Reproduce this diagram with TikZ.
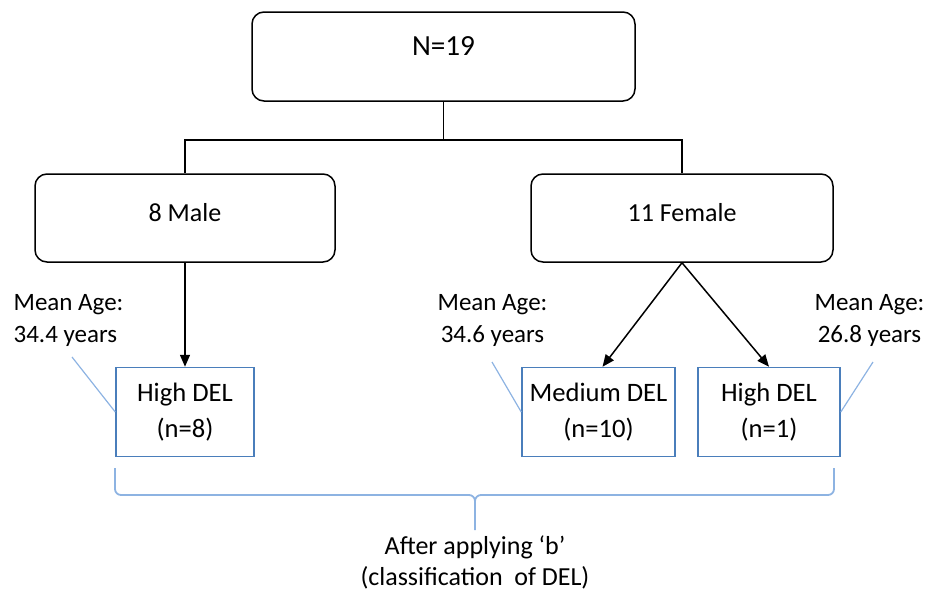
\documentclass[tikz,border=0pt]{standalone}
\usepackage{fontspec}
\setmainfont{Carlito}
\usetikzlibrary{positioning,arrows.meta}
\definecolor{boxblue}{HTML}{4A7EBB}
\definecolor{noteblue}{HTML}{8DB3E2}

\tikzset{
  groupbox/.style={draw, rounded corners=6pt, line width=0.75pt,
    minimum width=150pt, minimum height=44pt, text depth=6pt},
  delbox/.style={draw=boxblue, line width=0.75pt, minimum height=44.5pt,
    align=center, inner sep=2pt, font=\fontsize{13.3}{18}\selectfont},
  agenote/.style={align=center, font=\fontsize{12.5}{16}\selectfont},
  noteline/.style={draw=noteblue, line width=0.6pt},
}

\begin{document}
\begin{tikzpicture}[on grid, font=\fontsize{13}{15.5}\selectfont, line width=0.75pt]
            \useasboundingbox (0,0) rectangle (464pt,-297.5pt);

            \node[groupbox, minimum width=191.5pt, minimum height=44.5pt, text depth=10pt,
              font=\fontsize{14.6}{17}\selectfont] (N) at (221.75pt,-28.25pt) {N=19};
            \node[groupbox, below left=80.75pt and 129.25pt of N] (male) {8 Male};
            \node[groupbox, minimum width=151pt, below right=80.75pt and 119.25pt of N] (female) {11 Female};

            \node[delbox, minimum width=69pt, below=97pt of male] (highM) {High DEL\\(n=8)};
            \node[delbox, minimum width=76.5pt, below left=97pt and 41.75pt of female] (medF) {Medium DEL\\(n=10)};
            \node[delbox, minimum width=71pt, below right=97pt and 43.5pt of female] (highF) {High DEL\\(n=1)};

            \node[agenote, align=left, above left=46pt and 58.25pt of highM] (ageM) {Mean Age:\\34.4 years};
            \node[agenote, above left=46pt and 53pt of medF] (ageMed) {Mean Age:\\34.6 years};
            \node[agenote, above right=46pt and 50.25pt of highF] (ageHigh) {Mean Age:\\26.8 years};

            \coordinate (split) at ([yshift=-19pt]N.south);
            \draw (N.south) -- (split) -| (male.north);
            \draw (split) -| (female.north);

            \path[-{Triangle[length=6pt,width=5pt]}] (male.south) edge (highM.north);
            \path[-{Triangle[length=6pt,width=5pt]}] (female.south) edge ([xshift=2pt]medF.north);
            \path[-{Triangle[length=6pt,width=5pt]}] (female.south) edge (highF.north);

            % callout lines
            \coordinate (tipM) at (36pt,-178.5pt);
            \coordinate (tipMed) at (246pt,-181pt);
            \coordinate (tipHigh) at (436.5pt,-181pt);
            \path[noteline] (tipM) -- (highM.west);
            \path[noteline] (tipMed) -- (medF.west);
            \path[noteline] (tipHigh) -- (highF.east);

            % brace
            \draw[noteblue, line width=0.9pt] (57.5pt,-234pt) -- (57.5pt,-244.5pt) to[out=-90,in=180] (60.5pt,-247.5pt)
              -- (234.5pt,-247.5pt) to[out=0,in=90] (237.5pt,-250.5pt) -- (237.5pt,-265pt);
            \draw[noteblue, line width=0.9pt] (417pt,-234pt) -- (417pt,-244.5pt) to[out=-90,in=0] (414pt,-247.5pt)
              -- (240.5pt,-247.5pt) to[out=180,in=90] (237.5pt,-250.5pt);

            \node[align=center] (after) at (237.5pt,-281pt) {After applying ‘b’\\(classification\ \ of DEL)};
        \end{tikzpicture}
\end{document}
